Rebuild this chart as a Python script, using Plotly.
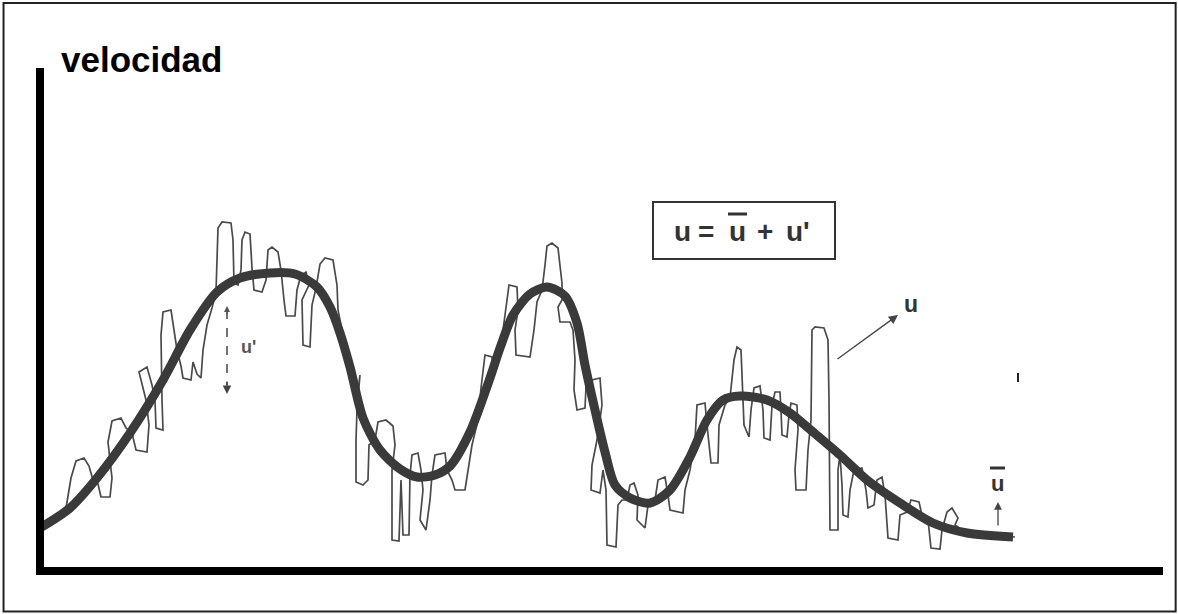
import plotly.graph_objects as go

# Time axis (arbitrary units) and velocity (arbitrary units)
mean_t = [40, 70, 97, 130, 163, 190, 217, 240, 270, 295,
          317, 330, 340, 350, 363, 380, 400, 417, 435, 450,
          470, 490, 500, 513, 530, 547, 565, 577, 585, 595,
          605, 615, 630, 650, 670, 690, 707, 723, 740, 767,
          790, 813, 840, 867, 900, 933, 967, 1013]
mean_v = [44, 64, 94, 139, 192, 242, 280, 294, 299, 298,
          285, 265, 239, 205, 154, 122, 103, 95, 97, 106,
          140, 194, 224, 257, 278, 285, 276, 249, 207, 162,
          120, 87, 74, 69, 82, 115, 152, 172, 176, 172,
          159, 140, 117, 92, 69, 49, 39, 35]

# instantaneous velocity u (traced in segments)
u_t_a = [40, 55, 66, 71, 76, 84, 89, 93, 98, 101, 110, 112, 108, 112, 121, 126, 132, 136, 147, 149,
         146, 139, 147, 152, 155, 156, 163, 162, 161, 163, 171, 174, 177, 181, 183, 191, 193, 197, 201, 203,
         207, 212]
u_v_a = [44, 54, 64, 94, 111, 114, 106, 92, 88, 75, 75, 94, 130, 151, 154, 144, 139, 122, 120, 147,
         172, 200, 205, 187, 172, 144, 142, 172, 237, 260, 262, 242, 222, 206, 194, 192, 210, 198, 194, 222,
         247, 264]
u_t_b = [216, 218, 222, 231, 233, 234, 238, 241, 242, 245, 250, 252, 254, 262, 266, 268, 272, 278, 281, 284,
         286, 295, 297, 301, 306, 309, 302, 303, 310, 312, 316, 320, 325, 333, 337, 338, 342, 345, 350, 353,
         358, 360]
u_v_b = [280, 344, 350, 349, 332, 289, 287, 302, 332, 340, 338, 304, 282, 280, 292, 322, 325, 320, 302, 272,
         256, 256, 282, 297, 300, 287, 272, 227, 225, 267, 284, 308, 314, 312, 287, 262, 242, 212, 210, 187,
         182, 197]
u_t_c = [357, 356, 356, 363, 368, 369, 375, 378, 386, 393, 395, 392, 392, 399, 401, 403, 409, 410, 412, 418,
         421, 423, 420, 426, 430, 432, 435, 445, 447, 452, 455, 465, 468, 472, 478, 481, 485, 492, 494]
u_v_c = [162, 132, 90, 87, 92, 127, 132, 150, 152, 146, 127, 102, 32, 31, 92, 37, 37, 97, 117, 119,
         102, 82, 52, 42, 72, 97, 117, 119, 102, 92, 82, 82, 102, 127, 152, 184, 217, 215, 197]
u_t_d = [497, 503, 507, 509, 517, 518, 515, 516, 530, 534, 537, 542, 545, 547, 552, 558, 562, 562, 558, 560,
         570, 573, 575, 574, 577, 585, 586, 592, 600, 602, 597, 592, 591, 600, 603, 606, 607, 616, 618, 622,
         627, 630, 634, 638, 637, 645, 648, 655]
u_v_d = [217, 242, 272, 287, 285, 262, 242, 217, 215, 242, 270, 282, 307, 326, 329, 324, 289, 272, 265, 250,
         250, 242, 212, 182, 162, 164, 185, 192, 194, 167, 132, 107, 82, 79, 102, 82, 27, 25, 67, 72,
         72, 87, 89, 77, 52, 44, 67, 72]
u_t_e = [658, 665, 668, 670, 683, 685, 690, 695, 697, 705, 707, 710, 711, 718, 719, 725, 730, 734, 737, 741,
         743, 744, 749, 751, 754, 760, 763, 764, 770, 772, 775, 780, 781, 782, 787, 789, 791, 797, 798, 795,
         796, 806, 808, 811, 812, 815, 824, 828, 829, 830, 838, 838, 840, 842, 843, 848, 850, 854, 862, 866,
         868, 874, 877, 882, 885, 888, 898, 900, 907, 911, 919, 922, 928, 931, 940, 942, 947, 952, 958, 955,
         965, 990, 1015]
u_v_e = [92, 95, 77, 62, 59, 82, 102, 132, 167, 169, 147, 122, 109, 109, 147, 167, 174, 212, 225, 222,
         177, 147, 135, 162, 184, 186, 162, 134, 132, 167, 180, 180, 162, 137, 135, 157, 169, 167, 142, 102,
         82, 82, 122, 152, 242, 245, 244, 232, 172, 42, 42, 102, 117, 87, 57, 55, 82, 102, 104, 82,
         64, 67, 92, 95, 77, 34, 32, 57, 60, 72, 70, 57, 52, 24, 23, 42, 60, 64, 54, 47,
         40, 37, 35]

u_t = u_t_a + u_t_b + u_t_c + u_t_d + u_t_e
u_v = u_v_a + u_v_b + u_v_c + u_v_d + u_v_e

y_label = "velocidad"
formula_parts = ["u", "=", "u", "+", "u'"]

FONT = "Liberation Sans, Arial, sans-serif"
INK = "#3a3a3a"

fig = go.Figure()
fig.add_trace(go.Scatter(x=u_t, y=u_v, mode="lines",
                         line=dict(color="#4a4a4a", width=1.7), hoverinfo="skip"))
fig.add_trace(go.Scatter(x=mean_t, y=mean_v, mode="lines",
                         line=dict(color=INK, width=9, shape="spline", smoothing=0.8),
                         hoverinfo="skip"))

shapes = []
# outer frame
shapes.append(dict(type="rect", xref="paper", yref="paper", x0=0.003, x1=0.998, y0=0.004, y1=0.995,
                   line=dict(color="#222", width=2)))
# axes
shapes.append(dict(type="line", xref="x", yref="y", x0=40, x1=40, y0=-3, y1=504,
                   line=dict(color="black", width=8)))
shapes.append(dict(type="line", xref="x", yref="y", x0=36, x1=1163, y0=1, y1=1,
                   line=dict(color="black", width=8)))
# formula box
shapes.append(dict(type="rect", xref="x", yref="y", x0=653, x1=835, y0=313, y1=370,
                   line=dict(color="#333", width=2)))
# overline in formula
shapes.append(dict(type="line", xref="x", yref="y", x0=728, x1=747, y0=358, y1=358,
                   line=dict(color="#333", width=3)))
# overline of u-bar label
shapes.append(dict(type="line", xref="x", yref="y", x0=990, x1=1005, y0=104, y1=104,
                   line=dict(color="#333", width=3)))
# dashed u' line
shapes.append(dict(type="line", xref="x", yref="y", x0=227, x1=227, y0=262, y1=187,
                   line=dict(color="#444", width=1.5, dash="dash")))
# small tick
shapes.append(dict(type="line", xref="x", yref="y", x0=1018, x1=1018, y0=190, y1=199,
                   line=dict(color="#222", width=2)))

annotations = []
annotations.append(dict(x=141, y=513, xref="x", yref="y", text="<b>" + y_label + "</b>",
                        showarrow=False, font=dict(family=FONT, size=35, color="black")))
for xx, txt in zip([682, 706, 737, 765, 798], formula_parts):
    annotations.append(dict(x=xx, y=341, xref="x", yref="y", text="<b>" + txt + "</b>",
                            showarrow=False, font=dict(family=FONT, size=28, color="#333")))
# u label + arrow
annotations.append(dict(x=911, y=268, xref="x", yref="y", text="<b>u</b>", showarrow=False,
                        font=dict(family=FONT, size=23, color="#333")))
annotations.append(dict(x=898, y=257, ax=836, ay=212, xref="x", yref="y", axref="x", ayref="y",
                        text="", showarrow=True, arrowhead=2, arrowsize=1.4, arrowwidth=1.3,
                        arrowcolor="#444"))
# u' label and arrowheads
annotations.append(dict(x=248, y=225, xref="x", yref="y", text="<b>u'</b>", showarrow=False,
                        font=dict(family=FONT, size=18, color="#555")))
annotations.append(dict(x=227, y=178, ax=227, ay=192, xref="x", yref="y", axref="x", ayref="y",
                        text="", showarrow=True, arrowhead=2, arrowsize=1.3, arrowwidth=1.3,
                        arrowcolor="#444"))
annotations.append(dict(x=227, y=266, ax=227, ay=256, xref="x", yref="y", axref="x", ayref="y",
                        text="", showarrow=True, arrowhead=2, arrowsize=1.0, arrowwidth=1.2,
                        arrowcolor="#555"))
# u-bar label and arrow
annotations.append(dict(x=997, y=89, xref="x", yref="y", text="<b>u</b>", showarrow=False,
                        font=dict(family=FONT, size=22, color="#333")))
annotations.append(dict(x=998, y=70, ax=998, ay=45, xref="x", yref="y", axref="x", ayref="y",
                        text="", showarrow=True, arrowhead=2, arrowsize=1.2, arrowwidth=1.3,
                        arrowcolor="#444"))

fig.update_layout(
    width=1178, height=614,
    margin=dict(l=0, r=0, t=0, b=0),
    paper_bgcolor="white", plot_bgcolor="white",
    showlegend=False,
    xaxis=dict(range=[0, 1178], visible=False, fixedrange=True),
    yaxis=dict(range=[-42, 572], visible=False, fixedrange=True),
    shapes=shapes, annotations=annotations,
)

fig.write_html("out.html", config={"displayModeBar": False},
               post_script="document.body.style.margin='0';document.body.style.overflow='hidden';")
